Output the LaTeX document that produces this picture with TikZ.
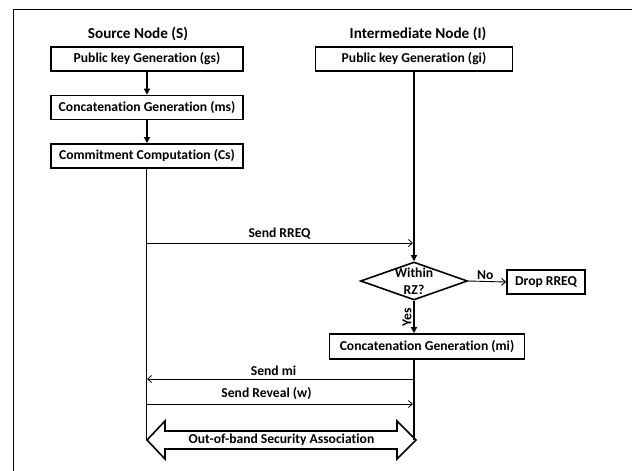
\documentclass[tikz,border=0pt]{standalone}
\usepackage{fontspec}
\setmainfont{Carlito}[Ligatures=NoCommon]
\usetikzlibrary{arrows.meta,shapes.geometric,calc}
\begin{document}
\begin{tikzpicture}[x=1pt,y=-1pt,
  font=\bfseries\fontsize{13.6}{15}\selectfont,
  box/.style={draw,line width=1.6pt,minimum width=192pt,minimum height=24pt,inner sep=0pt},
  head/.style={font=\bfseries\fontsize{15.2}{17}\selectfont},
  flow/.style={line width=1.3pt,-{Triangle[length=6pt,width=6pt]}},
  life/.style={line width=0.9pt},
  msg/.style={line width=0.8pt,-{Straight Barb[length=4pt,width=7pt]}},
  decide/.style={draw,diamond,line width=1.6pt,minimum width=107pt,minimum height=38pt,inner sep=0pt}]
\useasboundingbox (0,0) rectangle (632,471);
\draw[line width=1pt] (13,471) -- (13,9) -- (632,9);
% headings
\node[head] (hs) at (138,34) {Source Node (S)};
\node[head] (hi) at (418,34) {Intermediate Node (I)};
% source side
\node[box] (gs) at (147,59) {Public key Generation (gs)};
\node[box] (ms) at (147,107.5) {Concatenation Generation (ms)};
\node[box] (cs) at (147,156) {Commitment Computation (Cs)};
\draw[flow] (gs) -- (ms);
\draw[flow] (ms) -- (cs);
% intermediate side
\node[box,minimum width=197pt] (gi) at (414,59) {Public key Generation (gi)};
\node[decide] (dz) at (414,281) {};
\node[align=center,font=\bfseries\fontsize{13.6}{17.5}\selectfont] (dztext) at (414,281.5) {Within\\RZ?};
\node[box,minimum width=78pt] (drop) at (546,282) {Drop RREQ};
\node[box,minimum width=195pt,minimum height=25pt] (cmi) at (427,346.5) {Concatenation Generation (mi)};
\draw[flow] (gi) -- (dz);
\draw[line width=0.9pt,-{Straight Barb[length=4pt,width=7pt]}] (dz.east) -- node[above,pos=0.45,inner sep=1.5pt] (nolab) {No} (drop.west);
\draw[flow] (dz.south) -- node[pos=0.5,rotate=90,anchor=south,inner sep=2pt] (yeslab) {Yes} (dz.south |- cmi.north);
% lifelines
\coordinate (sbot) at (146,440);
\coordinate (ibot) at (414,440);
\coordinate (stop) at (146,167);
\draw[life] (stop) -- (sbot);
\draw[line width=1.3pt] (dz.south |- cmi.south) -- (ibot);
% messages
\coordinate (s1) at (146,243);
\coordinate (i1) at (413,243);
\draw[msg] (s1) -- node[above=0.5pt] (l1) {Send RREQ} (i1);
\coordinate (s2) at (147,379);
\coordinate (i2) at (414,379);
\draw[msg] (i2) -- node[above=0pt,xshift=-7pt] (l2) {Send mi} (s2);
\coordinate (s3) at (146,404);
\coordinate (i3) at (413,404);
\draw[msg] (s3) -- node[above=0.5pt,xshift=-13pt] (l3) {Send Reveal (w)} (i3);
% out-of-band double arrow
\draw[line width=1.6pt,line join=miter]
  (147,440) -- (165,421) -- (165,431) -- (397,431) -- (397,421) -- (416,440)
  -- (397,459) -- (397,449) -- (165,449) -- (165,459) -- cycle;
\node (oob) at (281.5,440) {Out-of-band Security Association};
\end{tikzpicture}
\end{document}
